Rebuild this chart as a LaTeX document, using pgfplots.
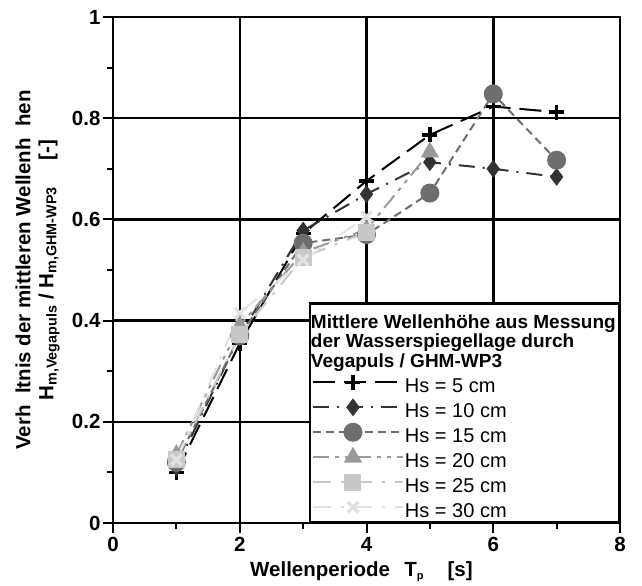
\documentclass[border=0pt]{standalone}
\usepackage{fontspec}
\setmainfont{Liberation Sans}
\usepackage{pgfplots}
\pgfplotsset{compat=1.18}
\definecolor{cA}{HTML}{000000}
\definecolor{cB}{HTML}{333333}
\definecolor{cC}{HTML}{6E6E6E}
\definecolor{cD}{HTML}{9A9A9A}
\definecolor{cE}{HTML}{C8C8C8}
\definecolor{cF}{HTML}{E2E2E2}
\newcommand{\ttl}[1]{\hspace*{-94bp}\fontsize{19bp}{19bp}\selectfont\bfseries\rule[-5.5bp]{0pt}{21.5bp}#1}
\newcommand{\ent}[1]{\rule[-8.5bp]{0pt}{30bp}#1}
\begin{document}
\begin{tikzpicture}
\useasboundingbox (-113bp,-63bp) rectangle (529bp,523bp);
\begin{axis}[
  at={(0,0)}, anchor=south west,
  scale only axis, width=507bp, height=506bp,
  xmin=0, xmax=8, ymin=0, ymax=1,
  xtick={0,2,4,6,8}, ytick={0,0.2,0.4,0.6,0.8,1},
  minor xtick={1,3,5,7}, minor ytick={0.1,0.3,0.5,0.7,0.9},
  grid=major, major grid style={black, line width=2.5bp},
  minor grid style={draw=none},
  axis line style={line width=2.5bp},
  every tick/.style={black, line width=2bp},
  major tick length=10bp, minor tick length=6bp,
  tick align=outside, xtick pos=bottom, ytick pos=left,
  /pgf/number format/assume math mode=true,
  ticklabel style={font=\fontsize{20.5bp}{20.5bp}\selectfont\bfseries},
  yticklabel style={xshift=1bp},
  xticklabel style={yshift=-1bp},
  xlabel={Wellenperiode\hspace{0.7em}T\textsubscript{\fontsize{11bp}{11bp}\selectfont p}\hspace{1.15em}[s]},
  xlabel style={at={(axis description cs:0.49,-0.097)}, anchor=center, font=\fontsize{20.5bp}{20.5bp}\selectfont\bfseries},
  ylabel={\begin{tabular}{c}Verh\hspace{0.55em}ltnis der mittleren Wellenh\hspace{0.55em}hen\\[-1bp]H\textsubscript{m,Vegapuls} / H\textsubscript{m,GHM-WP3}\hspace{1.3em}[-]\end{tabular}},
  ylabel style={at={(axis description cs:-0.150,0.5)}, anchor=center, font=\fontsize{20.5bp}{24bp}\selectfont\bfseries},
  legend cell align=left,
  legend style={at={(rel axis cs:1,0)}, anchor=south east, draw=black, line width=2.5bp,
    font=\fontsize{20bp}{20bp}\selectfont, inner xsep=2bp, inner ysep=2bp,
    row sep=0bp, nodes={inner sep=1bp}},
  legend image code/.code={%
    \path (0bp,0bp) -- (90bp,0bp);
    \draw[mark repeat=2, mark phase=2] plot coordinates {(0bp,0bp) (40bp,0bp) (78bp,0bp)};},
]
\addlegendimage{empty legend}
\addlegendentry{\ttl{\rule{0pt}{22bp}Mittlere Wellenhöhe aus Messung}}
\addlegendimage{empty legend}
\addlegendentry{\ttl{der Wasserspiegellage durch}}
\addlegendimage{empty legend}
\addlegendentry{\ttl{Vegapuls / GHM-WP3}}

\addplot[cA, line width=2bp, dash pattern=on 22bp off 9bp, mark=+, mark size=7.5bp,
  mark options={solid, line width=3.5bp}]
  coordinates {(1,0.10) (2,0.355) (3,0.572) (4,0.676) (5,0.767) (6,0.823) (7,0.812)};
\addlegendentry{\ent{Hs = 5 cm}}

\addplot[cB, line width=2bp, dash pattern=on 16bp off 8bp on 2bp off 8bp, mark=diamond*, mark size=8.5bp,
  mark options={solid, fill=cB, line width=0.5bp}]
  coordinates {(1,0.11) (2,0.37) (3,0.578) (4,0.650) (5,0.713) (6,0.700) (7,0.684)};
\addlegendentry{\ent{Hs = 10 cm}}

\addplot[cC, line width=2bp, dash pattern=on 8bp off 5bp, mark=*, mark size=8.5bp,
  mark options={solid, fill=cC, draw=cC}]
  coordinates {(1,0.12) (2,0.37) (3,0.553) (4,0.570) (5,0.652) (6,0.848) (7,0.717)};
\addlegendentry{\ent{Hs = 15 cm}}

\addplot[cD, line width=2bp, dash pattern=on 16bp off 6bp on 4bp off 6bp on 4bp off 6bp, mark=triangle*, mark size=8.5bp,
  mark options={solid, fill=cD, draw=cD}]
  coordinates {(1,0.135) (2,0.39) (3,0.535) (4,0.58) (5,0.733)};
\addlegendentry{\ent{Hs = 20 cm}}

\addplot[cE, line width=2bp, dash pattern=on 18bp off 10bp on 3bp off 10bp, mark=square*, mark size=7.5bp,
  mark options={solid, fill=cE, draw=cE}]
  coordinates {(1,0.125) (2,0.372) (3,0.525) (4,0.575)};
\addlegendentry{\ent{Hs = 25 cm}}

\addplot[cF, line width=2bp, dash pattern=on 18bp off 10bp on 3bp off 10bp, mark=x, mark size=7.5bp,
  mark options={solid, line width=3.5bp, draw=cF}]
  coordinates {(1,0.125) (2,0.415) (3,0.52) (4,0.605)};
\addlegendentry{\ent{Hs = 30 cm}}
\end{axis}
\end{tikzpicture}
\end{document}
